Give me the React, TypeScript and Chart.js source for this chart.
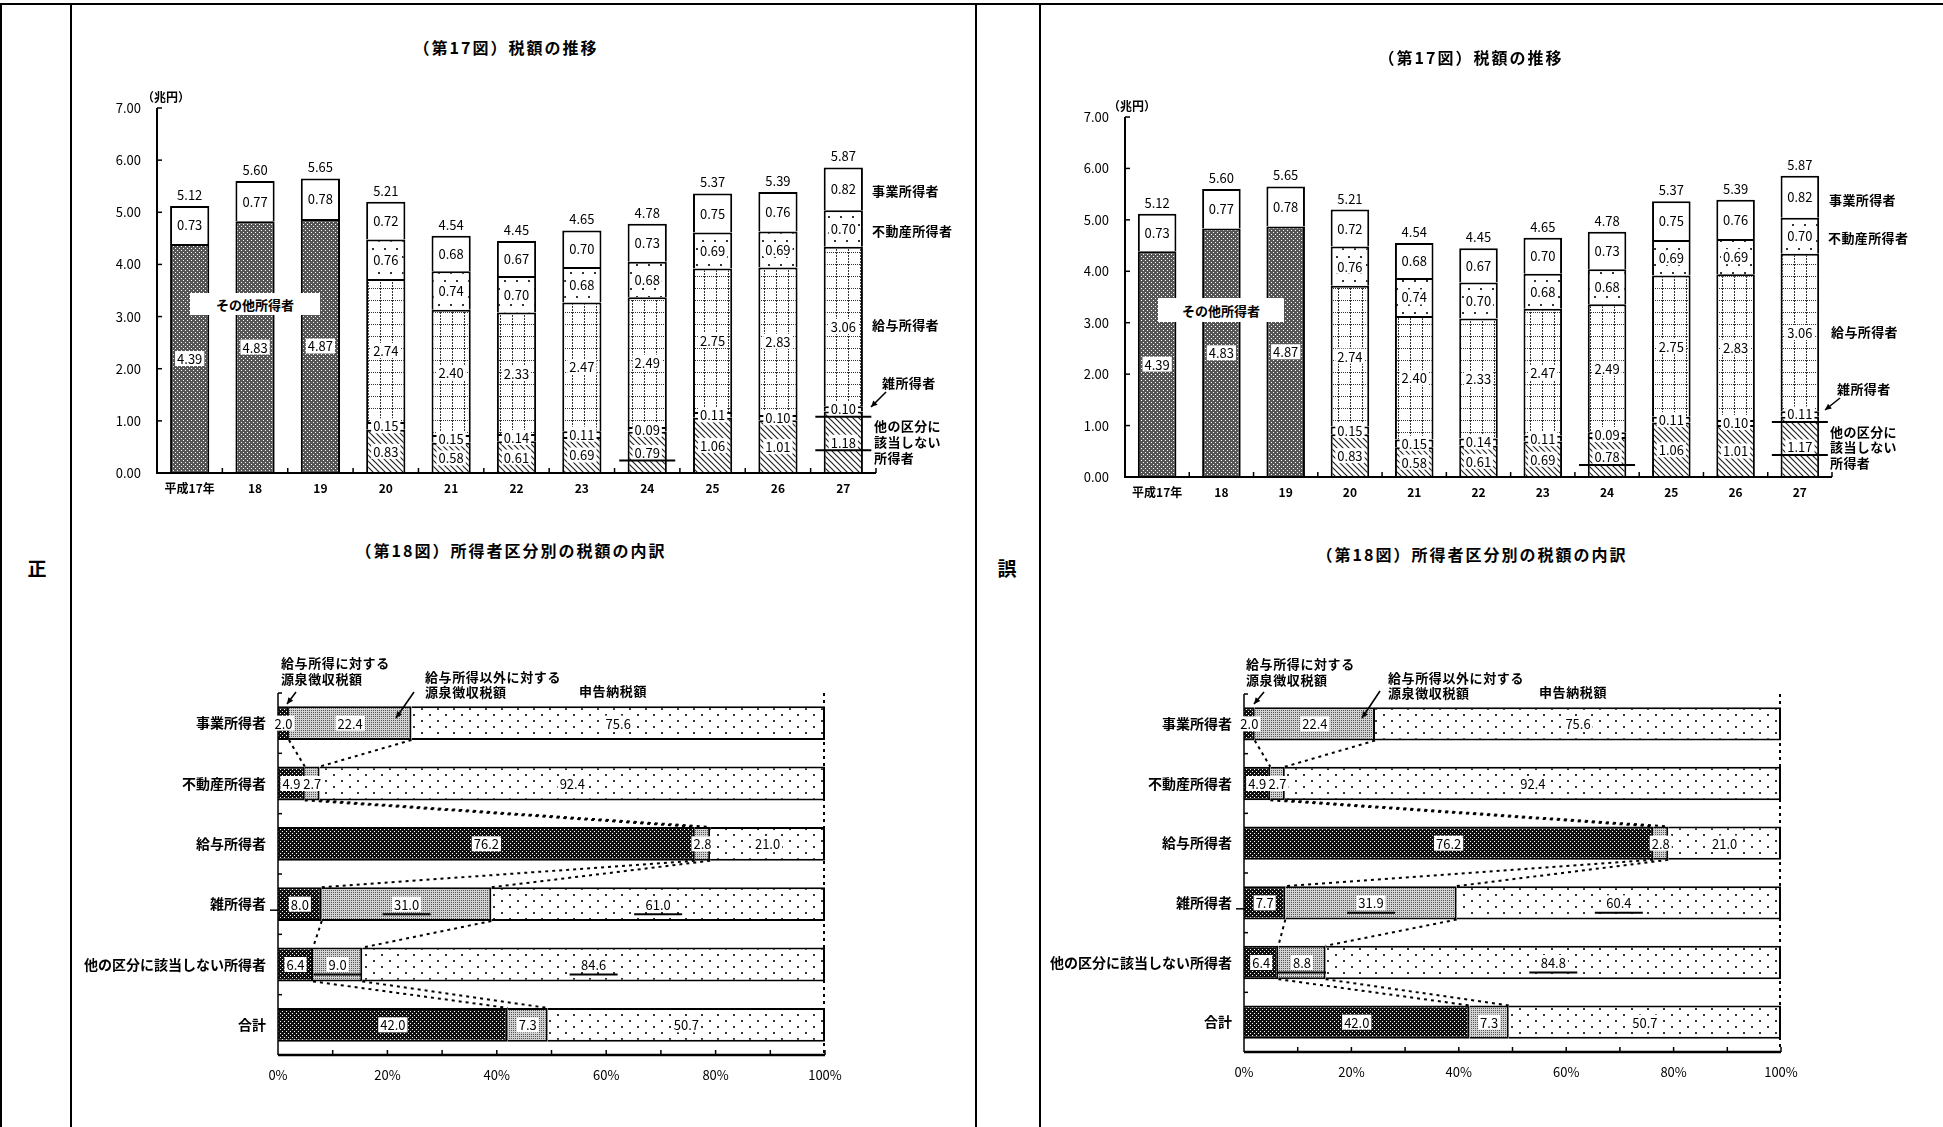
import React, { useEffect, useRef } from "react";
import { Chart, registerables } from "chart.js";
Chart.register(...registerables);

const FONT = "'Noto Sans CJK JP', 'Noto Sans', sans-serif";
Chart.defaults.font.family = FONT;
Chart.defaults.color = "#000";

// ---------- 第17図 data ----------
const years17 = ["平成17年", "18", "19", "20", "21", "22", "23", "24", "25", "26", "27"];
const totals17 = [5.12, 5.6, 5.65, 5.21, 4.54, 4.45, 4.65, 4.78, 5.37, 5.39, 5.87];
const yTicks17 = [0, 1, 2, 3, 4, 5, 6, 7];
const sonota17 = [4.39, 4.83, 4.87, null, null, null, null, null, null, null, null];
const jigyo17 = [0.73, 0.77, 0.78, 0.72, 0.68, 0.67, 0.7, 0.73, 0.75, 0.76, 0.82];
const fudosan17 = [null, null, null, 0.76, 0.74, 0.7, 0.68, 0.68, 0.69, 0.69, 0.7];
const kyuyo17 = [null, null, null, 2.74, 2.4, 2.33, 2.47, 2.49, 2.75, 2.83, 3.06];
const zatsu17Sei = [null, null, null, 0.15, 0.15, 0.14, 0.11, 0.09, 0.11, 0.1, 0.1];
const hoka17Sei = [null, null, null, 0.83, 0.58, 0.61, 0.69, 0.79, 1.06, 1.01, 1.18];
const zatsu17Go = [null, null, null, 0.15, 0.15, 0.14, 0.11, 0.09, 0.11, 0.1, 0.11];
const hoka17Go = [null, null, null, 0.83, 0.58, 0.61, 0.69, 0.78, 1.06, 1.01, 1.17];

// ---------- 第18図 data ----------
const cats18 = ["事業所得者", "不動産所得者", "給与所得者", "雑所得者", "他の区分に該当しない所得者", "合計"];
const gensenKyuyoSei = [2.0, 4.9, 76.2, 8.0, 6.4, 42.0];
const gensenOtherSei = [22.4, 2.7, 2.8, 31.0, 9.0, 7.3];
const shinkokuSei = [75.6, 92.4, 21.0, 61.0, 84.6, 50.7];
const gensenKyuyoGo = [2.0, 4.9, 76.2, 7.7, 6.4, 42.0];
const gensenOtherGo = [22.4, 2.7, 2.8, 31.9, 8.8, 7.3];
const shinkokuGo = [75.6, 92.4, 21.0, 60.4, 84.8, 50.7];

// underlined (corrected) labels: [datasetIndex, categoryIndex]
const underline17: [number, number][] = [[0, 7], [1, 10], [0, 10]];
const underline18: [number, number][] = [[1, 3], [2, 3], [1, 4], [2, 4]];

// ---------- patterns ----------
function tile(w: number, h: number, draw: (g: CanvasRenderingContext2D) => void) {
  const c = document.createElement("canvas");
  c.width = w;
  c.height = h;
  const g = c.getContext("2d")!;
  g.fillStyle = "#fff";
  g.fillRect(0, 0, w, h);
  draw(g);
  return c;
}

function patterns(ctx: CanvasRenderingContext2D) {
  const mk = (c: HTMLCanvasElement) => ctx.createPattern(c, "repeat")!;
  return {
    sonota: mk(tile(4, 4, (g) => {
      g.fillStyle = "#555";
      g.fillRect(0, 0, 4, 4);
      g.fillStyle = "#fff";
      g.fillRect(0, 0, 1, 1);
      g.fillRect(2, 2, 1, 1);
    })),
    kyuyo: mk(tile(12, 12, (g) => {
      g.fillStyle = "#333";
      for (let y = 0; y < 12; y += 3) g.fillRect(5, y, 1, 2);
      for (let x = 0; x < 12; x += 2) g.fillRect(x, 0, 1, 1);
    })),
    fudosan: mk(tile(12, 16, (g) => {
      g.fillStyle = "#333";
      g.fillRect(3, 4, 2, 2);
      g.fillRect(9, 12, 2, 2);
    })),
    hoka: mk(tile(6, 6, (g) => {
      g.strokeStyle = "#222";
      g.lineWidth = 1.2;
      g.beginPath();
      g.moveTo(-1, -1); g.lineTo(7, 7);
      g.moveTo(5, -1); g.lineTo(7, 1);
      g.moveTo(-1, 5); g.lineTo(1, 7);
      g.stroke();
    })),
    dark: mk(tile(4, 4, (g) => {
      g.fillStyle = "#111";
      g.fillRect(0, 0, 4, 4);
      g.fillStyle = "#fff";
      g.fillRect(1, 1, 1, 1);
      g.fillRect(3, 3, 1, 1);
    })),
    light: mk(tile(2, 2, (g) => {
      g.fillStyle = "#d2d2d2";
      g.fillRect(0, 0, 2, 2);
      g.fillStyle = "#555";
      g.fillRect(0, 0, 1, 1);
    })),
    sparse: mk(tile(16, 12, (g) => {
      g.fillStyle = "#333";
      g.fillRect(2, 2, 2, 2);
      g.fillRect(10, 8, 2, 2);
    })),
  };
}

function boxLabel(ctx: CanvasRenderingContext2D, text: string, x: number, y: number, size: number) {
  ctx.font = `${size}px ${FONT}`;
  const w = ctx.measureText(text).width;
  ctx.fillStyle = "#fff";
  ctx.fillRect(x - w / 2 - 2, y - size / 2 - 1, w + 4, size + 2);
  ctx.fillStyle = "#000";
  ctx.textAlign = "center";
  ctx.textBaseline = "middle";
  ctx.fillText(text, x, y + 0.5);
}

function line(ctx: CanvasRenderingContext2D, x1: number, y1: number, x2: number, y2: number) {
  ctx.beginPath();
  ctx.moveTo(x1, y1);
  ctx.lineTo(x2, y2);
  ctx.stroke();
}

// ---------- chart builders ----------
type Box = { left: number; top: number; width: number; height: number; yW: number; xH: number; padTop: number; padRight: number };

function make17(canvas: HTMLCanvasElement, b: Box, zatsu: (number | null)[], hoka: (number | null)[]) {
  const ctx0 = canvas.getContext("2d")!;
  const p = patterns(ctx0);
  const decor = {
    id: "decor17",
    afterDatasetsDraw(chart: any) {
      const { ctx, chartArea: a, scales } = chart;
      const xs = scales.x, ys = scales.y;
      ctx.save();
      ctx.strokeStyle = "#000";
      ctx.lineWidth = 2;
      ctx.beginPath();
      ctx.moveTo(a.left, a.top);
      ctx.lineTo(a.left, a.bottom);
      ctx.lineTo(a.right, a.bottom);
      ctx.stroke();
      ctx.lineWidth = 1.5;
      for (const v of yTicks17) {
        const y = ys.getPixelForValue(v);
        line(ctx, a.left, y, a.left + 5, y);
      }
      const n = years17.length;
      const cw = (a.right - a.left) / n;
      for (let i = 1; i <= n; i++) {
        const x = a.left + i * cw;
        line(ctx, x, a.bottom, x, a.bottom - 5);
      }
      // segment labels
      const ds = chart.data.datasets;
      const topY: number[] = years17.map(() => Infinity);
      const centers: Record<string, [number, number]> = {};
      ds.forEach((d: any, di: number) => {
        const meta = chart.getDatasetMeta(di);
        meta.data.forEach((el: any, i: number) => {
          const v = d.data[i];
          if (v === null || v === undefined) return;
          const { x, y, base } = el.getProps(["x", "y", "base"], true);
          topY[i] = Math.min(topY[i], y);
          const cy = (y + base) / 2;
          centers[di + ":" + i] = [x, cy];
          boxLabel(ctx, Number(v).toFixed(2), x, cy, 13);
        });
      });
      // totals
      ctx.font = `13px ${FONT}`;
      ctx.fillStyle = "#000";
      ctx.textAlign = "center";
      ctx.textBaseline = "middle";
      totals17.forEach((t, i) => {
        const x = xs.getPixelForValue(i);
        ctx.fillText(t.toFixed(2), x, topY[i] - 11);
      });
      // underlines of corrected values
      ctx.lineWidth = 2;
      for (const [di, i] of underline17) {
        const c = centers[di + ":" + i];
        if (!c) continue;
        line(ctx, c[0] - 28, c[1] + 8, c[0] + 28, c[1] + 8);
      }
      ctx.restore();
    },
  };
  const common = { borderColor: "#000", borderWidth: 2, categoryPercentage: 1, barPercentage: 0.6 };
  return new Chart(canvas, {
    type: "bar",
    data: {
      labels: years17,
      datasets: [
        { label: "他の区分に該当しない所得者", data: hoka, backgroundColor: p.hoka, ...common },
        { label: "雑所得者", data: zatsu, backgroundColor: "#fff", ...common },
        { label: "給与所得者", data: kyuyo17, backgroundColor: p.kyuyo, ...common },
        { label: "不動産所得者", data: fudosan17, backgroundColor: p.fudosan, ...common },
        { label: "その他所得者", data: sonota17, backgroundColor: p.sonota, ...common },
        { label: "事業所得者", data: jigyo17, backgroundColor: "#fff", ...common },
      ] as any,
    },
    options: {
      animation: false,
      responsive: false,
      devicePixelRatio: 1,
      layout: { padding: { top: b.padTop, right: b.padRight, left: 0, bottom: 0 } },
      plugins: { legend: { display: false }, tooltip: { enabled: false }, title: { display: false } },
      scales: {
        x: {
          stacked: true,
          grid: { display: false, drawTicks: false },
          border: { display: false },
          ticks: { color: "#000", font: { size: 12, weight: "bold" }, padding: 8, maxRotation: 0, autoSkip: false },
          afterFit: (s: any) => { s.height = b.xH; },
        },
        y: {
          stacked: true,
          min: 0,
          max: 7,
          grid: { display: false, drawTicks: false },
          border: { display: false },
          ticks: { stepSize: 1, color: "#000", font: { size: 13 }, padding: 16, callback: (v: any) => Number(v).toFixed(2) },
          afterFit: (s: any) => { s.width = b.yW; },
        },
      },
    } as any,
    plugins: [decor],
  });
}

function make18(canvas: HTMLCanvasElement, b: Box, s1: number[], s2: number[], s3: number[]) {
  const ctx0 = canvas.getContext("2d")!;
  const p = patterns(ctx0);
  const decor = {
    id: "decor18",
    afterDatasetsDraw(chart: any) {
      const { ctx, chartArea: a, scales } = chart;
      const xs = scales.x;
      ctx.save();
      ctx.strokeStyle = "#000";
      // dashed right edge at 100%
      ctx.lineWidth = 2;
      ctx.setLineDash([3, 4]);
      line(ctx, a.right - 1, a.top, a.right - 1, a.bottom);
      // series connector lines
      const m0 = chart.getDatasetMeta(0).data;
      const m1 = chart.getDatasetMeta(1).data;
      for (let i = 0; i < cats18.length - 1; i++) {
        for (const m of [m0, m1]) {
          const e1 = m[i].getProps(["x", "y", "height"], true);
          const e2 = m[i + 1].getProps(["x", "y", "height"], true);
          line(ctx, e1.x, e1.y + e1.height / 2, e2.x, e2.y - e2.height / 2);
        }
      }
      ctx.setLineDash([]);
      // axes
      ctx.lineWidth = 1.5;
      line(ctx, a.left, a.top, a.left, a.bottom);
      const n = cats18.length;
      const rh = (a.bottom - a.top) / n;
      for (let i = 0; i < n; i++) {
        const y = a.top + i * rh;
        line(ctx, a.left, y, a.left + 4, y);
      }
      const yz = a.top + 3.5 * rh;
      line(ctx, a.left - 8, yz + 6, a.left, yz + 6);
      ctx.lineWidth = 2.5;
      line(ctx, a.left, a.bottom, a.right, a.bottom);
      ctx.lineWidth = 1.5;
      for (let v = 10; v <= 100; v += 10) {
        const x = xs.getPixelForValue(v);
        line(ctx, x, a.bottom, x, a.bottom - 5);
      }
      // labels
      const ds = chart.data.datasets;
      const centers: Record<string, [number, number]> = {};
      ds.forEach((d: any, di: number) => {
        const meta = chart.getDatasetMeta(di);
        meta.data.forEach((el: any, i: number) => {
          const v = d.data[i];
          const { x, y, base } = el.getProps(["x", "y", "base"], true);
          const cx = (x + base) / 2;
          centers[di + ":" + i] = [cx, y];
          boxLabel(ctx, Number(v).toFixed(1), cx, y, 13);
        });
      });
      ctx.lineWidth = 2;
      for (const [di, i] of underline18) {
        const c = centers[di + ":" + i];
        if (!c) continue;
        line(ctx, c[0] - 24, c[1] + 10, c[0] + 24, c[1] + 10);
      }
      ctx.restore();
    },
  };
  const common = { borderColor: "#000", borderWidth: 2, categoryPercentage: 1, barPercentage: 0.56 };
  return new Chart(canvas, {
    type: "bar",
    data: {
      labels: cats18,
      datasets: [
        { label: "給与所得に対する源泉徴収税額", data: s1, backgroundColor: p.dark, ...common },
        { label: "給与所得以外に対する源泉徴収税額", data: s2, backgroundColor: p.light, ...common },
        { label: "申告納税額", data: s3, backgroundColor: p.sparse, ...common },
      ] as any,
    },
    options: {
      indexAxis: "y",
      animation: false,
      responsive: false,
      devicePixelRatio: 1,
      layout: { padding: { top: b.padTop, right: b.padRight, left: 0, bottom: 0 } },
      plugins: { legend: { display: false }, tooltip: { enabled: false }, title: { display: false } },
      scales: {
        x: {
          stacked: true,
          min: 0,
          max: 100,
          grid: { display: false, drawTicks: false },
          border: { display: false },
          ticks: { stepSize: 20, color: "#000", font: { size: 13 }, padding: 12, callback: (v: any) => v + "%" },
          afterFit: (s: any) => { s.height = b.xH; },
        },
        y: {
          stacked: true,
          grid: { display: false, drawTicks: false },
          border: { display: false },
          ticks: { color: "#000", font: { size: 14, weight: "bold" }, padding: 12, autoSkip: false },
          afterFit: (s: any) => { s.width = b.yW; },
        },
      },
    } as any,
    plugins: [decor],
  });
}

function ChartBox({ b, make }: { b: Box; make: (c: HTMLCanvasElement) => Chart }) {
  const ref = useRef<HTMLCanvasElement>(null);
  useEffect(() => {
    const chart = make(ref.current!);
    return () => chart.destroy();
  }, []);
  return (
    <canvas
      ref={ref}
      width={b.width}
      height={b.height}
      style={{ position: "absolute", left: b.left, top: b.top, width: b.width, height: b.height }}
    />
  );
}

function T({ x, y, children, size = 13, bold = true, center = false, ls = 0 }: any) {
  return (
    <div
      style={{
        position: "absolute",
        left: x,
        top: y,
        transform: center ? "translate(-50%, -50%)" : "translate(0, -50%)",
        fontFamily: FONT,
        fontSize: size,
        fontWeight: bold ? 700 : 400,
        letterSpacing: ls,
        whiteSpace: "nowrap",
        lineHeight: 1,
        color: "#000",
        zIndex: 2,
      }}
    >
      {children}
    </div>
  );
}

function Arrow({ x1, y1, x2, y2 }: any) {
  const ang = Math.atan2(y2 - y1, x2 - x1);
  const h = 7;
  const ax = x2 - h * Math.cos(ang - 0.45), ay = y2 - h * Math.sin(ang - 0.45);
  const bx = x2 - h * Math.cos(ang + 0.45), by = y2 - h * Math.sin(ang + 0.45);
  return (
    <g>
      <line x1={x1} y1={y1} x2={x2} y2={y2} stroke="#000" strokeWidth={1.6} />
      <polygon points={`${x2},${y2} ${ax},${ay} ${bx},${by}`} fill="#000" />
    </g>
  );
}

const box17Sei: Box = { left: 75, top: 60, width: 900, height: 460, yW: 82, xH: 47, padTop: 48, padRight: 99 };
const box17Go: Box = { left: 1045, top: 60, width: 898, height: 470, yW: 80, xH: 53, padTop: 57, padRight: 111 };
const box18Sei: Box = { left: 75, top: 640, width: 895, height: 450, yW: 203, xH: 35, padTop: 53, padRight: 145 };
const box18Go: Box = { left: 1045, top: 640, width: 895, height: 450, yW: 199, xH: 38, padTop: 54, padRight: 159 };

export default function App() {
  useEffect(() => {
    document.body.style.margin = "0";
  }, []);
  const vline = (x: number) => (
    <div style={{ position: "absolute", left: x, top: 3, width: 2, height: 1124, background: "#000", zIndex: 3 }} />
  );
  return (
    <div style={{ position: "fixed", left: 0, top: 0, width: 1943, height: 1127, background: "#fff", overflow: "hidden" }}>
      <ChartBox b={box17Sei} make={(c) => make17(c, box17Sei, zatsu17Sei, hoka17Sei)} />
      <ChartBox b={box17Go} make={(c) => make17(c, box17Go, zatsu17Go, hoka17Go)} />
      <ChartBox b={box18Sei} make={(c) => make18(c, box18Sei, gensenKyuyoSei, gensenOtherSei, shinkokuSei)} />
      <ChartBox b={box18Go} make={(c) => make18(c, box18Go, gensenKyuyoGo, gensenOtherGo, shinkokuGo)} />

      {/* table frame */}
      <div style={{ position: "absolute", left: 0, top: 3, width: 1943, height: 2, background: "#000", zIndex: 3 }} />
      {vline(0)}
      {vline(70)}
      {vline(975)}
      {vline(1039)}
      <T x={37} y={567} size={19} center>正</T>
      <T x={1007} y={567} size={19} center>誤</T>

      {/* 第17図 正 */}
      <T x={506} y={47} size={16} center ls={2}>（第17図）税額の推移</T>
      <T x={166} y={97} size={12} center>（兆円）</T>
      <T x={872} y={190} size={13} ls={0.4}>事業所得者</T>
      <T x={872} y={230} size={13} ls={0.4}>不動産所得者</T>
      <T x={872} y={324} size={13} ls={0.4}>給与所得者</T>
      <T x={882} y={382} size={13} ls={0.4}>雑所得者</T>
      <T x={874} y={425} size={13} ls={0.4}>他の区分に</T>
      <T x={874} y={441} size={13} ls={0.4}>該当しない</T>
      <T x={874} y={457} size={13} ls={0.4}>所得者</T>
      <div style={{ position: "absolute", left: 190, top: 293, width: 130, height: 22, background: "#fff", zIndex: 1 }} />
      <T x={255} y={304} size={13} center>その他所得者</T>

      {/* 第17図 誤 */}
      <T x={1471} y={57} size={16} center ls={2}>（第17図）税額の推移</T>
      <T x={1132} y={106} size={12} center>（兆円）</T>
      <T x={1829} y={199} size={13} ls={0.4}>事業所得者</T>
      <T x={1828} y={237} size={13} ls={0.4}>不動産所得者</T>
      <T x={1831} y={331} size={13} ls={0.4}>給与所得者</T>
      <T x={1837} y={388} size={13} ls={0.4}>雑所得者</T>
      <T x={1830} y={431} size={13} ls={0.4}>他の区分に</T>
      <T x={1830} y={446} size={13} ls={0.4}>該当しない</T>
      <T x={1830} y={462} size={13} ls={0.4}>所得者</T>
      <div style={{ position: "absolute", left: 1158, top: 298, width: 126, height: 24, background: "#fff", zIndex: 1 }} />
      <T x={1221} y={310} size={13} center>その他所得者</T>

      {/* 第18図 正 */}
      <T x={511} y={550} size={16} center ls={2}>（第18図）所得者区分別の税額の内訳</T>
      <T x={281} y={662} size={13} ls={0.6}>給与所得に対する</T>
      <T x={281} y={678} size={13} ls={0.6}>源泉徴収税額</T>
      <T x={425} y={676} size={13} ls={0.6}>給与所得以外に対する</T>
      <T x={425} y={691} size={13} ls={0.6}>源泉徴収税額</T>
      <T x={579} y={690} size={13} ls={0.6}>申告納税額</T>

      {/* 第18図 誤 */}
      <T x={1472} y={554} size={16} center ls={2}>（第18図）所得者区分別の税額の内訳</T>
      <T x={1246} y={663} size={13} ls={0.6}>給与所得に対する</T>
      <T x={1246} y={679} size={13} ls={0.6}>源泉徴収税額</T>
      <T x={1388} y={677} size={13} ls={0.6}>給与所得以外に対する</T>
      <T x={1388} y={692} size={13} ls={0.6}>源泉徴収税額</T>
      <T x={1539} y={691} size={13} ls={0.6}>申告納税額</T>

      <svg width={1943} height={1127} style={{ position: "absolute", left: 0, top: 0, zIndex: 4, pointerEvents: "none" }}>
        <Arrow x1={886} y1={392} x2={871} y2={407} />
        <Arrow x1={1840} y1={398} x2={1825} y2={410} />
        <Arrow x1={296} y1={692} x2={287} y2={704} />
        <Arrow x1={414} y1={692} x2={396} y2={718} />
        <Arrow x1={1264} y1={692} x2={1254} y2={704} />
        <Arrow x1={1380} y1={691} x2={1362} y2={718} />
      </svg>
    </div>
  );
}
